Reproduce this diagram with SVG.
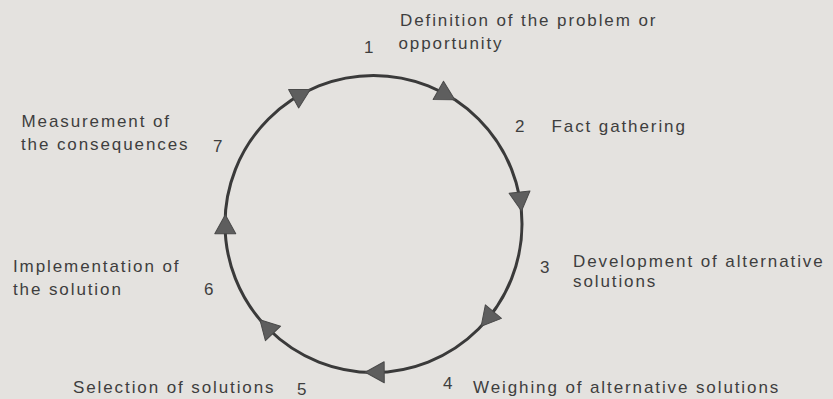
<svg xmlns="http://www.w3.org/2000/svg" xmlns:xlink="http://www.w3.org/1999/xlink" width="833" height="399" viewBox="0 0 833 399">
<style>
.t{font-family:"Liberation Sans",Arial,sans-serif;font-size:17px;letter-spacing:1.9px;fill:#3e3e3e}
.n{font-family:"Liberation Sans",Arial,sans-serif;font-size:17px;fill:#3e3e3e}
.ring{fill:none;stroke:#3a3a3a;stroke-width:3}
.ah{fill:#5e5e5e;stroke:#4a4a4a;stroke-width:1;stroke-linejoin:round}
</style>
<defs>
<path id="arr" class="ah" d="M0,0 L-19,-10.5 L-19,10.5 Z"/>
</defs>
<rect width="833" height="399" fill="#e4e2df"/>
<g id="connectors">
<circle class="ring" cx="373.5" cy="224" r="148.5"/>
<use xlink:href="#arr" href="#arr" transform="translate(225.3,214.7) rotate(270.1)"/>
<use xlink:href="#arr" href="#arr" transform="translate(310.3,89.6) rotate(331.3)"/>
<use xlink:href="#arr" href="#arr" transform="translate(454.8,99.7) rotate(29.7)"/>
<use xlink:href="#arr" href="#arr" transform="translate(521.5,211) rotate(84)"/>
<use xlink:href="#arr" href="#arr" transform="translate(481.2,326.2) rotate(130)"/>
<use xlink:href="#arr" href="#arr" transform="translate(365.2,372.3) rotate(179.7)"/>
<use xlink:href="#arr" href="#arr" transform="translate(259.9,319.7) rotate(226.4)"/>
</g>
<g id="node1">
<text class="t" x="400" y="26">Definition of the problem or</text>
<text class="t" x="398.5" y="48.5">opportunity</text>
<text class="n" x="364" y="53">1</text>
</g>
<g id="node2">
<text class="n" x="515" y="131.5">2</text>
<text class="t" x="551.5" y="131.5">Fact gathering</text>
</g>
<g id="node3">
<text class="n" x="540" y="273">3</text>
<text class="t" x="573" y="266.5">Development of alternative</text>
<text class="t" x="573" y="287">solutions</text>
</g>
<g id="node4">
<text class="n" x="443" y="388.5">4</text>
<text class="t" x="473" y="393">Weighing of alternative solutions</text>
</g>
<g id="node5">
<text class="t" x="73" y="393">Selection of solutions</text>
<text class="n" x="297" y="395">5</text>
</g>
<g id="node6">
<text class="t" x="13" y="271.5">Implementation of</text>
<text class="t" x="13" y="295">the solution</text>
<text class="n" x="204" y="295">6</text>
</g>
<g id="node7">
<text class="t" x="21.5" y="126.5">Measurement of</text>
<text class="t" x="21" y="150">the consequences</text>
<text class="n" x="213" y="151.5">7</text>
</g>
</svg>
